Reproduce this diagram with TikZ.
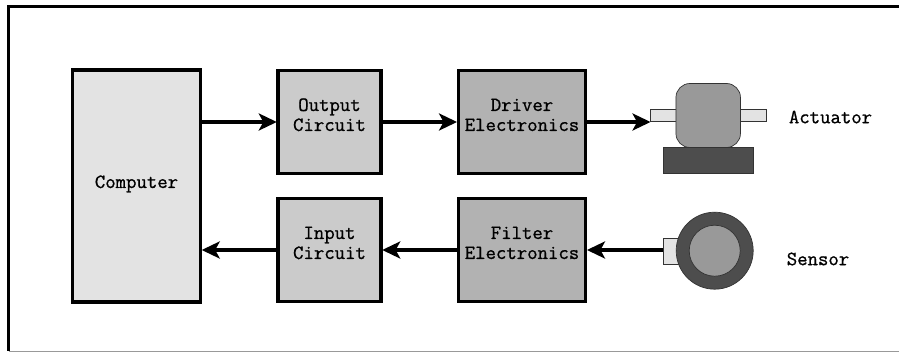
\documentclass[tikz,border=0pt]{standalone}
\usepackage{fontspec}
\usetikzlibrary{arrows.meta}
\newfontfamily\labfont[FakeBold=0.9]{Latin Modern Mono}
\definecolor{cComp}{HTML}{E3E3E3}
\definecolor{cOut}{HTML}{CBCBCB}
\definecolor{cDrv}{HTML}{B2B2B2}
\definecolor{cBody}{HTML}{999999}
\definecolor{cDark}{HTML}{4D4D4D}
\definecolor{cEdge}{HTML}{333333}
\newcommand{\boxtxt}[2][10pt]{\begin{tabular}{@{}c@{}}#2\\[#1]\end{tabular}}
\tikzset{
  x=1pt,y=-1pt,
  txt/.style={font=\labfont\fontsize{20.2}{20}\selectfont,text=black,inner sep=0pt},
  block/.style={txt,draw=black,line width=3.4pt,minimum height=103pt,inner sep=0pt},
  conn/.style={draw=black,line width=3.2pt,-{Stealth[length=18pt,width=17pt,inset=4.5pt]},shorten >=-0.5pt},
  part/.style={draw=cEdge,line width=0.7pt,inner sep=0pt,outer sep=0pt},
}
\begin{document}
\begin{tikzpicture}
\useasboundingbox (0,0) rectangle (899,352);
\fill[white] (0,0) rectangle (899,352);
\coordinate (ftl) at (8.5,6.5);
\coordinate (ftr) at (899,6.5);
\coordinate (fbl) at (8.5,351);
\coordinate (fbr) at (899,351);
\draw[line width=0.9pt,draw=black!40] (fbl) -- (fbr);
\draw[line width=3.4pt,line cap=butt] (ftr) -- (ftl) -- (fbl);

\node[block,fill=cComp,minimum width=128pt,minimum height=232pt] (comp) at (136.5,186) {\boxtxt[4pt]{Computer}};
\node[block,fill=cOut,minimum width=103pt] (out) at (329.5,122) {\boxtxt{Output\\[0pt]Circuit}};
\node[block,fill=cDrv,minimum width=127.5pt] (drv) at (522,122) {\boxtxt{Driver\\[0pt]Electronics}};
\node[block,fill=cOut,minimum width=103pt] (inp) at (329.5,250) {\boxtxt{Input\\[0pt]Circuit}};
\node[block,fill=cDrv,minimum width=127.5pt] (flt) at (522,250) {\boxtxt{Filter\\[0pt]Electronics}};

% actuator
\node[part,fill=cComp,minimum width=116.5pt,minimum height=12.5pt] (shaft) at (708.3,115.5) {};
\node[part,fill=cBody,minimum width=64.5pt,minimum height=64pt,rounded corners=14pt] (body) at (708.2,115.5) {};
\node[part,fill=cDark,minimum width=90.5pt,minimum height=26.5pt] (base) at (708.3,160.3) {};
\node[txt] (actl) at (830.5,117) {Actuator};

% sensor
\node[part,fill=cComp,minimum width=24pt,minimum height=26pt] (plug) at (675,251) {};
\node[part,circle,fill=cDark,minimum size=77pt] (ring) at (714.7,250.7) {};
\node[part,circle,fill=cBody,minimum size=51pt] (core) at (714.7,250.7) {};
\node[txt] (senl) at (818,259) {Sensor};

\draw[conn] (comp.east |- out.west) -- (out.west);
\draw[conn] (out.east) -- (drv.west);
\draw[conn] (drv.east) -- (drv.east -| shaft.west);
\draw[conn] (plug.west |- flt.east) -- (flt.east);
\draw[conn] (flt.west) -- (inp.east);
\draw[conn] (inp.west) -- (comp.east |- inp.west);
\end{tikzpicture}
\end{document}
